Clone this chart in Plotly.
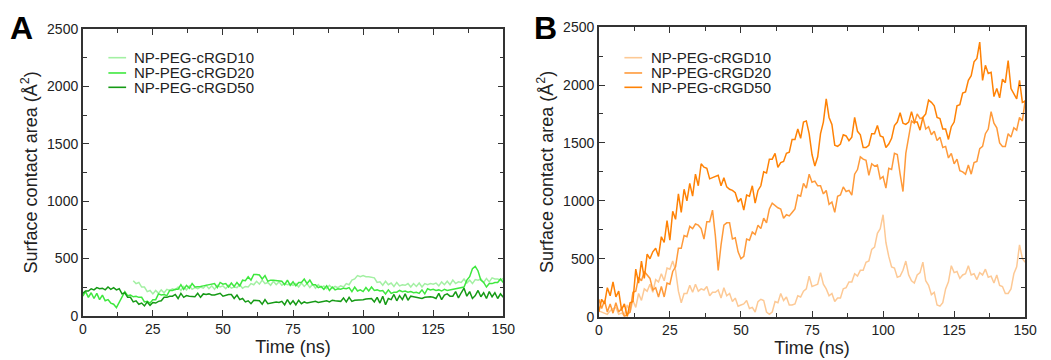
import numpy as np
import plotly.graph_objects as go

# ---------------- data ----------------
time_ns = np.arange(0, 151)          # sampling grid, 1 ns
time_ns_a10 = np.arange(18, 151)     # cRGD10 in panel A starts at 18 ns

a_rgd10 = [305, 280,
           290, 250, 250, 210, 220, 190, 220, 195, 225, 200,
           230, 220, 235, 225, 250, 220, 255, 225, 260, 230,
           245, 235, 250, 240, 265, 235, 260, 230, 265, 250,
           260, 235, 265, 240, 250, 245, 270, 240, 255, 250,
           280, 270, 300, 275, 310, 280, 290, 265, 300, 270,
           295, 265, 280, 270, 275, 265, 280, 250, 285, 255,
           280, 245, 275, 240, 270, 245, 260, 235, 265, 240,
           255, 245, 260, 250, 280, 270, 310, 320, 350, 340,
           350, 340, 340, 335, 330, 290, 295, 265, 300, 270,
           285, 255, 290, 260, 270, 265, 280, 250, 280, 255,
           285, 250, 280, 270, 280, 275, 285, 260, 295, 270,
           300, 270, 310, 280, 295, 290, 320, 285, 310, 280,
           315, 310, 320, 290, 325, 295, 330, 320, 320, 310,
           325]

a_rgd20 = [170, 210, 160, 200, 150, 195, 140, 180, 130, 140,
           110, 100, 70, 120, 160, 210, 175, 180, 165, 170,
           160, 160, 120, 125, 110, 140, 140, 190, 180, 185,
           175, 220, 220, 230, 230, 270, 230, 265, 240, 280,
           250, 250, 255, 260, 265, 270, 270, 280, 245, 290,
           275, 280, 250, 285, 255, 290, 260, 310, 305, 340,
           310, 360, 360, 355, 320, 350, 300, 310, 310, 305,
           300, 300, 270, 310, 265, 295, 260, 290, 290, 320,
           280, 310, 270, 270, 245, 255, 230, 260, 220, 250,
           225, 235, 230, 240, 235, 245, 210, 250, 215, 225,
           210, 245, 215, 250, 220, 225, 215, 220, 190, 225,
           195, 205, 205, 220, 210, 215, 205, 210, 200, 205,
           195, 225, 190, 235, 225, 230, 220, 225, 215, 230,
           220, 225, 230, 235, 240, 250, 250, 310, 340, 410,
           430, 390, 310, 290, 250, 280, 280, 290, 290, 320,
           290]

a_rgd50 = [195, 215, 215, 235, 225, 245, 235, 240, 225, 250,
           230, 245, 225, 235, 190, 200, 160, 160, 120, 130,
           100, 110, 85, 120, 90, 115, 110, 125, 130, 160,
           160, 170, 170, 185, 150, 195, 160, 175, 170, 170,
           165, 195, 160, 190, 185, 190, 180, 180, 185, 195,
           170, 180, 185, 185, 150, 180, 140, 150, 120, 130,
           105, 135, 130, 130, 100, 140, 105, 110, 110, 120,
           115, 125, 95, 140, 100, 130, 95, 135, 105, 120,
           110, 115, 120, 125, 115, 120, 130, 130, 120, 135,
           130, 130, 125, 155, 120, 160, 125, 135, 135, 140,
           140, 145, 150, 150, 120, 160, 110, 170, 95, 150,
           140, 185, 130, 175, 140, 190, 135, 170, 165, 160,
           155, 150, 160, 165, 165, 160, 150, 195, 140, 180,
           190, 170, 170, 210, 155, 200, 240, 170, 210, 150,
           175, 220, 165, 200, 150, 210, 165, 200, 150, 190,
           160]

b_rgd10 = [50, 40, 30, 20, 50, 70, 80, 20, 30, 10,
           100, 40, 140, 80, 200, 140, 240, 220, 280, 210,
           320, 300, 370, 310, 420, 410, 480, 400, 220, 120,
           200, 200, 270, 210, 280, 220, 240, 230, 260, 180,
           210, 210, 230, 160, 250, 180, 200, 130, 160, 90,
           100, 110, 140, 70, 80, 40, 130, 150, 140, 40,
           20, 40, 130, 120, 200, 140, 170, 100, 100, 110,
           180, 170, 220, 240, 350, 260, 270, 280, 380, 280,
           240, 180, 200, 130, 160, 160, 240, 250, 300, 300,
           370, 350, 400, 400, 470, 480, 580, 600, 720, 760,
           880, 640, 520, 430, 420, 340, 350, 400, 480, 360,
           310, 290, 360, 380, 470, 310, 270, 190, 210, 100,
           90, 120, 240, 300, 440, 380, 390, 330, 360, 370,
           440, 360, 370, 320, 380, 360, 410, 340, 350, 290,
           360, 270, 260, 200, 200, 240, 370, 430, 620, 500,
           470]

b_rgd20 = [150, 70, 140, 40, 110, 30, 120, 40, 70, 0,
           20, 40, 210, 220, 340, 310, 390, 360, 330, 230,
           250, 170, 260, 170, 290, 280, 390, 430, 590, 590,
           700, 690, 780, 760, 800, 790, 760, 670, 820, 820,
           920, 700, 400, 620, 790, 810, 810, 670, 680, 560,
           500, 520, 670, 660, 730, 710, 790, 760, 850, 810,
           930, 980, 960, 940, 930, 850, 880, 870, 900, 930,
           1050, 1040, 1150, 1110, 1230, 1160, 1170, 1130, 1130, 1060,
           1090, 970, 990, 900, 1040, 1050, 1120, 1080, 1090, 1050,
           1230, 1270, 1380, 1360, 1350, 1220, 1320, 1300, 1310, 1190,
           1210, 1110, 1280, 1270, 1410, 1400, 1230, 1080, 1410, 1570,
           1690, 1670, 1750, 1710, 1720, 1620, 1640, 1570, 1600, 1520,
           1550, 1460, 1470, 1370, 1410, 1320, 1360, 1260, 1250, 1230,
           1310, 1230, 1330, 1340, 1450, 1470, 1580, 1620, 1770, 1670,
           1630, 1500, 1470, 1470, 1580, 1550, 1630, 1610, 1720, 1690,
           1870]

b_rgd50 = [40, 150, 110, 250, 180, 300, 170, 220, 60, 110,
           0, 120, 130, 410, 290, 480, 330, 540, 500, 560,
           590, 520, 690, 640, 830, 660, 910, 840, 1060, 900,
           1100, 1000, 1150, 1040, 1230, 1130, 1320, 1290, 1280, 1190,
           1200, 1210, 1220, 1130, 1200, 1120, 1100, 1090, 1070, 990,
           1020, 920, 1050, 1040, 1130, 980, 1090, 1130, 1250, 1240,
           1360, 1360, 1410, 1290, 1330, 1340, 1410, 1420, 1530, 1530,
           1620, 1540, 1680, 1690, 1580, 1400, 1300, 1380, 1580, 1680,
           1880, 1720, 1660, 1480, 1470, 1490, 1570, 1560, 1520, 1550,
           1720, 1600, 1570, 1460, 1460, 1480, 1580, 1580, 1650, 1560,
           1550, 1460, 1490, 1540, 1650, 1680, 1760, 1670, 1660, 1680,
           1770, 1680, 1680, 1610, 1720, 1750, 1870, 1850, 1820, 1720,
           1710, 1620, 1620, 1530, 1640, 1680, 1820, 1830, 1930, 1940,
           2040, 2080, 2200, 2230, 2370, 2040, 2170, 2100, 2110, 1900,
           1970, 1890, 2050, 2020, 2210, 1970, 1930, 1880, 2040, 1850,
           1860]

series_names = ["NP-PEG-cRGD10", "NP-PEG-cRGD20", "NP-PEG-cRGD50"]
x_ticks = [0, 25, 50, 75, 100, 125, 150]
y_ticks = [0, 500, 1000, 1500, 2000, 2500]
colors_a = ["#a3f0a3", "#3ee83e", "#159a15"]
colors_b = ["#fdc995", "#ff9a3a", "#ff8205"]

FONT = "Liberation Sans, Arial, Helvetica, sans-serif"
AXC = "#333333"
W, H = 1051, 360

fig = go.Figure()

a_x = [time_ns_a10, time_ns, time_ns]
a_y = [a_rgd10, a_rgd20, a_rgd50]
for name, xs, ys, c in zip(series_names, a_x, a_y, colors_a):
    fig.add_trace(go.Scatter(x=xs, y=ys, mode="lines", name=name,
                             line=dict(color=c, width=1.5),
                             xaxis="x", yaxis="y", showlegend=False))

b_y = [b_rgd10, b_rgd20, b_rgd50]
for name, ys, c in zip(series_names, b_y, colors_b):
    fig.add_trace(go.Scatter(x=time_ns, y=ys, mode="lines", name=name,
                             line=dict(color=c, width=1.5),
                             xaxis="x2", yaxis="y2", showlegend=False))


def xax(domain, anchor):
    return dict(domain=domain, anchor=anchor, range=[0, 150],
                tickvals=x_ticks, ticktext=[str(v) for v in x_ticks],
                showline=True, linecolor=AXC, linewidth=1.5, mirror="ticks",
                ticks="inside", ticklen=6, tickwidth=1.2, tickcolor=AXC,
                showgrid=False, zeroline=False,
                minor=dict(ticks="inside", ticklen=4, tickwidth=1.2,
                           tickcolor=AXC, dtick=12.5, tick0=0, showgrid=False),
                tickfont=dict(family=FONT, size=14, color="#222"),
                title=dict(text="Time (ns)", standoff=1,
                           font=dict(family=FONT, size=18, color="#222")))


def yax(domain, anchor):
    return dict(domain=domain, anchor=anchor, range=[0, 2500],
                tickvals=y_ticks, ticktext=[str(v) for v in y_ticks],
                showline=True, linecolor=AXC, linewidth=1.5, mirror="ticks",
                ticks="inside", ticklen=6, tickwidth=1.2, tickcolor=AXC,
                showgrid=False, zeroline=False,
                minor=dict(ticks="inside", ticklen=4, tickwidth=1.2,
                           tickcolor=AXC, dtick=250, tick0=0, showgrid=False),
                tickfont=dict(family=FONT, size=14, color="#222"),
                title=dict(text="Surface contact area (Å<sup>2</sup>)", standoff=5,
                           font=dict(family=FONT, size=18, color="#222")))


# hand-placed legends (line sample + label), one per panel
shapes = []
annotations = []
legend_rows_y = [52, 68, 83]
for (line_x0, line_x1, text_x, cols) in [(106, 124, 131, colors_a),
                                         (630, 648, 656, colors_b)]:
    for name, c, yy in zip(series_names, cols, legend_rows_y):
        shapes.append(dict(type="line", xref="paper", yref="paper",
                           x0=line_x0 / W, x1=line_x1 / W,
                           y0=1 - yy / H, y1=1 - yy / H,
                           line=dict(color=c, width=1.6)))
        annotations.append(dict(text=name, x=text_x / W, y=1 - yy / H,
                                xref="paper", yref="paper",
                                xanchor="left", yanchor="middle",
                                showarrow=False, borderpad=0,
                                font=dict(family=FONT, size=15, color="#222")))

annotations += [
    dict(text="<b>A</b>", x=5 / W, y=1 - 1 / H, xref="paper", yref="paper",
         xanchor="left", yanchor="top", showarrow=False, borderpad=0,
         font=dict(family=FONT, size=32, color="#000")),
    dict(text="<b>B</b>", x=537 / W, y=1 - 1 / H, xref="paper", yref="paper",
         xanchor="left", yanchor="top", showarrow=False, borderpad=0,
         font=dict(family=FONT, size=32, color="#000")),
]

fig.update_layout(
    width=W, height=H,
    margin=dict(l=0, r=0, t=0, b=0),
    paper_bgcolor="white", plot_bgcolor="white",
    font=dict(family=FONT, color="#222"),
    xaxis=xax([80 / W, 507 / W], "y"),
    yaxis=yax([1 - 322 / H, 1 - 22 / H], "x"),
    xaxis2=xax([604 / W, 1037 / W], "y2"),
    yaxis2=yax([1 - 323 / H, 1 - 20 / H], "x2"),
    showlegend=False,
    shapes=shapes,
    annotations=annotations,
)

fig.write_html("out.html")
